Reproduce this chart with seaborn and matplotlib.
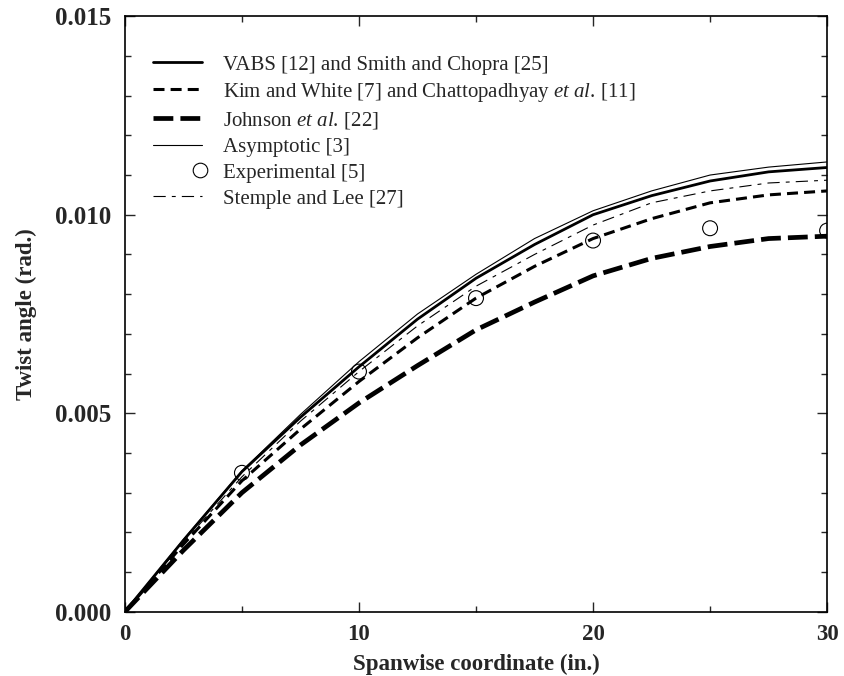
import numpy as np
import pandas as pd
import matplotlib
matplotlib.use("Agg")
import matplotlib.pyplot as plt
import seaborn as sns
from matplotlib.legend_handler import HandlerLine2D
from matplotlib.lines import Line2D
from matplotlib.ticker import MultipleLocator, FormatStrFormatter

# ---- data ----
span = [0, 2.5, 5, 7.5, 10, 12.5, 15, 17.5, 20, 22.5, 25, 27.5, 30]
vabs = [0, 0.00180, 0.00353, 0.00490, 0.00617, 0.00737, 0.00840, 0.00925,
        0.01000, 0.01048, 0.01085, 0.01108, 0.01119]
kim = [0, 0.00170, 0.00330, 0.00460, 0.00580, 0.00690, 0.00790, 0.00870,
       0.00940, 0.00990, 0.01030, 0.01050, 0.01060]
johnson = [0, 0.00155, 0.00300, 0.00420, 0.00526, 0.00620, 0.00710, 0.00780,
           0.00846, 0.00890, 0.00920, 0.00940, 0.00946]
asymptotic = [0, 0.00182, 0.00355, 0.00497, 0.00630, 0.00750, 0.00850, 0.00940,
              0.01010, 0.01060, 0.01100, 0.01120, 0.01133]
stemple = [0, 0.00175, 0.00340, 0.00480, 0.00605, 0.00720, 0.00820, 0.00900,
           0.00974, 0.01030, 0.01060, 0.01080, 0.01087]
exp_x = [5, 10, 15, 20, 25, 30]
exp_y = [0.00350, 0.00605, 0.00790, 0.00935, 0.00966, 0.00960]

labels = {
    "vabs": "VABS [12] and Smith and Chopra [25]",
    "kim": r"Kim and White [7] and Chattopadhyay $\mathit{et\ al.}\,$[11]",
    "johnson": r"Johnson $\mathit{et\ al.}\,$[22]",
    "asym": "Asymptotic [3]",
    "exp": "Experimental [5]",
    "stemple": "Stemple and Lee [27]",
}

sns.set_theme(style="ticks")
plt.rcParams["font.family"] = ["Liberation Serif", "DejaVu Serif"]
plt.rcParams["mathtext.fontset"] = "custom"
plt.rcParams["mathtext.it"] = "Liberation Serif:italic"
plt.rcParams["mathtext.rm"] = "Liberation Serif"

fig = plt.figure(figsize=(8.44, 6.76), dpi=100)
ax = fig.add_axes([0.148, 0.095, 0.832, 0.881])

df = pd.DataFrame({"x": span, "vabs": vabs, "kim": kim, "johnson": johnson,
                   "asym": asymptotic, "stemple": stemple})

sns.lineplot(data=df, x="x", y="vabs", ax=ax, color="black", lw=2.0)
sns.lineplot(data=df, x="x", y="kim", ax=ax, color="black", lw=2.2)
sns.lineplot(data=df, x="x", y="johnson", ax=ax, color="black", lw=3.4)
sns.lineplot(data=df, x="x", y="asym", ax=ax, color="black", lw=0.8)
sns.lineplot(data=df, x="x", y="stemple", ax=ax, color="black", lw=0.8)
edf = pd.DataFrame({"x": exp_x, "y": exp_y})
sns.scatterplot(data=edf, x="x", y="y", ax=ax, marker="o", s=115,
                facecolor="none", edgecolor="black", linewidth=0.8, zorder=5)

lines = ax.get_lines()
l_vabs, l_kim, l_john, l_asym, l_stem = lines[:5]
l_kim.set_dashes([3.6, 2.0])
l_john.set_dashes([4.2, 1.5])
l_stem.set_dashes([11, 5.5, 3.5, 5.5])

ax.set_xlim(0, 30)
ax.set_ylim(0, 0.015)
ax.xaxis.set_major_locator(MultipleLocator(10))
ax.xaxis.set_minor_locator(MultipleLocator(5))
ax.yaxis.set_major_locator(MultipleLocator(0.005))
ax.yaxis.set_minor_locator(MultipleLocator(0.001))
ax.yaxis.set_major_formatter(FormatStrFormatter("%.3f"))
ax.tick_params(which="both", direction="in", top=True, right=True, width=1.0)
ax.tick_params(axis="y", labelsize=18, pad=10)
ax.tick_params(axis="x", labelsize=16.5, pad=9)
ax.tick_params(which="major", length=7)
ax.tick_params(which="minor", length=4)
for lab in ax.get_xticklabels() + ax.get_yticklabels():
    lab.set_fontweight("bold")
for sp in ax.spines.values():
    sp.set_linewidth(1.2)
    sp.set_color("black")

ax.set_xlabel("Spanwise coordinate (in.)", fontsize=16.5, fontweight="bold",
              labelpad=6)
ax.set_ylabel("Twist angle (rad.)", fontsize=16.5, fontweight="bold",
              labelpad=13)


class RightMarkerHandler(HandlerLine2D):
    """Single marker drawn at the right end of the legend handle."""
    def get_xdata(self, legend, xdescent, ydescent, width, height, fontsize):
        right = width - xdescent - 0.05 * width
        return [right - 1.0, right + 1.0], [right]


exp_proxy = Line2D([], [], linestyle="none", marker="o", markersize=10.5,
                   markerfacecolor="none", markeredgecolor="black",
                   markeredgewidth=0.8)
handles = [l_vabs, l_kim, l_john, l_asym, exp_proxy, l_stem]
labs = [labels["vabs"], labels["kim"], labels["johnson"], labels["asym"],
        labels["exp"], labels["stemple"]]
leg = ax.legend(handles, labs, loc="upper left", frameon=False, fontsize=15,
                handlelength=2.35, handletextpad=1.0, labelspacing=0.3,
                borderpad=0, borderaxespad=0,
                bbox_to_anchor=(0.04, 0.935),
                handler_map={exp_proxy: RightMarkerHandler(numpoints=1)})

fig.savefig("out.png", dpi=100)
